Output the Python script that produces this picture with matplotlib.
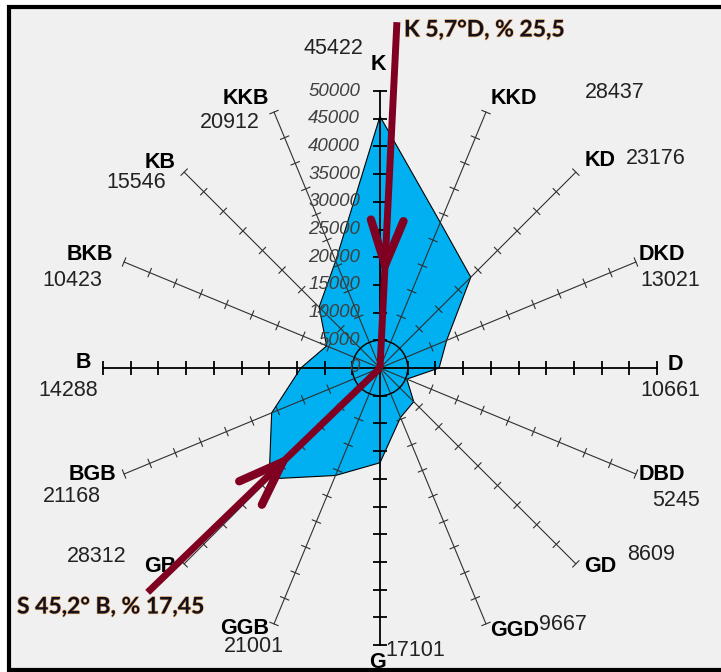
import numpy as np
import matplotlib
matplotlib.use("Agg")
import matplotlib.pyplot as plt
from matplotlib.patches import Rectangle, Circle
from matplotlib.collections import LineCollection
import matplotlib.patheffects as pe

# wind directions (clockwise from north) and counts
directions = ['K', 'KKD', 'KD', 'DKD', 'D', 'DBD', 'GD', 'GGD',
              'G', 'GGB', 'GB', 'BGB', 'B', 'BKB', 'KB', 'KKB']
values = [45422, 28437, 23176, 13021, 10661, 5245, 8609, 9667,
          17101, 21001, 28312, 21168, 14288, 10423, 15546, 20912]
radial_ticks = list(range(0, 50001, 5000))

# resultant arrows: bearing (deg), shaft length, head position
arrow_bearings = [2.8, 226.0]
arrow_lengths = [62500, 58300]
arrow_tips = [18600, 24400]
arrow_texts = ['K 5,7°D, % 25,5', 'S 45,2° B, % 17,45']

# label positions in pixels (direction name, value)
name_pos = [(378, 65), (514, 98), (600, 160), (662, 255), (675, 364), (662, 475),
            (600, 567), (515, 630), (377, 662), (245, 628), (160, 566), (92, 474),
            (83, 363), (90, 255), (160, 162), (246, 98)]
value_pos = [(333, 48), (615, 93), (656, 158), (670, 281), (670, 390), (676, 500),
             (651, 555), (563, 625), (415, 651), (254, 647), (97, 557), (72, 497),
             (68, 390), (72, 280), (136, 183), (230, 122)]
text_pos = [(404, 30), (17, 607)]

W, H = 721, 672
CX, CY = 380, 368
S = 50000 / 277.0


def pdata(px, py):
    return (px - CX) * S, (CY - py) * S


fig = plt.figure(figsize=(W / 100, H / 100), dpi=100)
fig.patch.set_facecolor('white')
fig.add_artist(Rectangle((9 / W, 2 / H), 1.0, 1 - 9 / H, transform=fig.transFigure,
                         facecolor='#f0f0f0', edgecolor='black', lw=3, zorder=0))

ax = fig.add_axes([0, 0, 1, 1])
ax.patch.set_visible(False)
ax.set_xlim(pdata(0, 0)[0], pdata(W, 0)[0])
ax.set_ylim(pdata(0, H)[1], pdata(0, 0)[1])
ax.axis('off')

theta = np.deg2rad(np.arange(16) * 22.5)
vals = np.array(values)
px_ = vals * np.sin(theta)
py_ = vals * np.cos(theta)
ax.fill(px_, py_, facecolor='#00b0f0', edgecolor='black', lw=0.8, zorder=2)

# spokes with ticks
rmax = radial_ticks[-1]
for i, t in enumerate(theta):
    card = i % 4 == 0
    col = 'black' if card else '#303030'
    lw = 1.3 if card else 0.8
    ax.plot([0, rmax * np.sin(t)], [0, rmax * np.cos(t)], color=col, lw=lw, zorder=3)
    half = 1200 if card else 900
    segs = []
    for r in radial_ticks[1:]:
        x0, y0 = r * np.sin(t), r * np.cos(t)
        nx, ny = np.cos(t), -np.sin(t)
        segs.append([(x0 - half * nx, y0 - half * ny), (x0 + half * nx, y0 + half * ny)])
    ax.add_collection(LineCollection(segs, colors=col, linewidths=lw, zorder=3))

ax.add_patch(Circle((0, 0), radial_ticks[1], fill=False, edgecolor='black', lw=0.9, zorder=3))

# radial tick labels along the north spoke
for r in radial_ticks:
    ax.text(pdata(360, 0)[0], r, f'{r}', ha='right', va='center', style='italic',
            fontsize=13.5, color='#404040', family='Liberation Sans', zorder=4)

for name, v, (nx_, ny_), (vx, vy) in zip(directions, values, name_pos, value_pos):
    ax.text(*pdata(nx_, ny_), name, ha='center', va='center', fontsize=15.5,
            fontweight='bold', family='Liberation Sans', color='black', zorder=4)
    ax.text(*pdata(vx, vy), f'{v}', ha='center', va='center', fontsize=15.5,
            family='Liberation Sans', color='#222222', zorder=4)

# arrows
red = '#7f0020'
for b, L, tip in zip(arrow_bearings, arrow_lengths, arrow_tips):
    t = np.deg2rad(b)
    ax.plot([0, L * np.sin(t)], [0, L * np.cos(t)], color=red, lw=5,
            solid_capstyle='butt', zorder=5)
    tx, ty = tip * np.sin(t), tip * np.cos(t)
    for d in (-20, 20):
        a = np.deg2rad(b + d)
        ax.plot([tx, tx + 8600 * np.sin(a)], [ty, ty + 8600 * np.cos(a)], color=red,
                lw=6, solid_capstyle='round', zorder=5)

for s, (tx, ty) in zip(arrow_texts, text_pos):
    ax.text(*pdata(tx, ty), s, ha='left', va='center', fontsize=16.5, fontweight='bold',
            family='Lato', color='#111122', zorder=6,
            path_effects=[pe.withStroke(linewidth=0.9, foreground='#e8a860')])

fig.savefig('out.png', dpi=100)
